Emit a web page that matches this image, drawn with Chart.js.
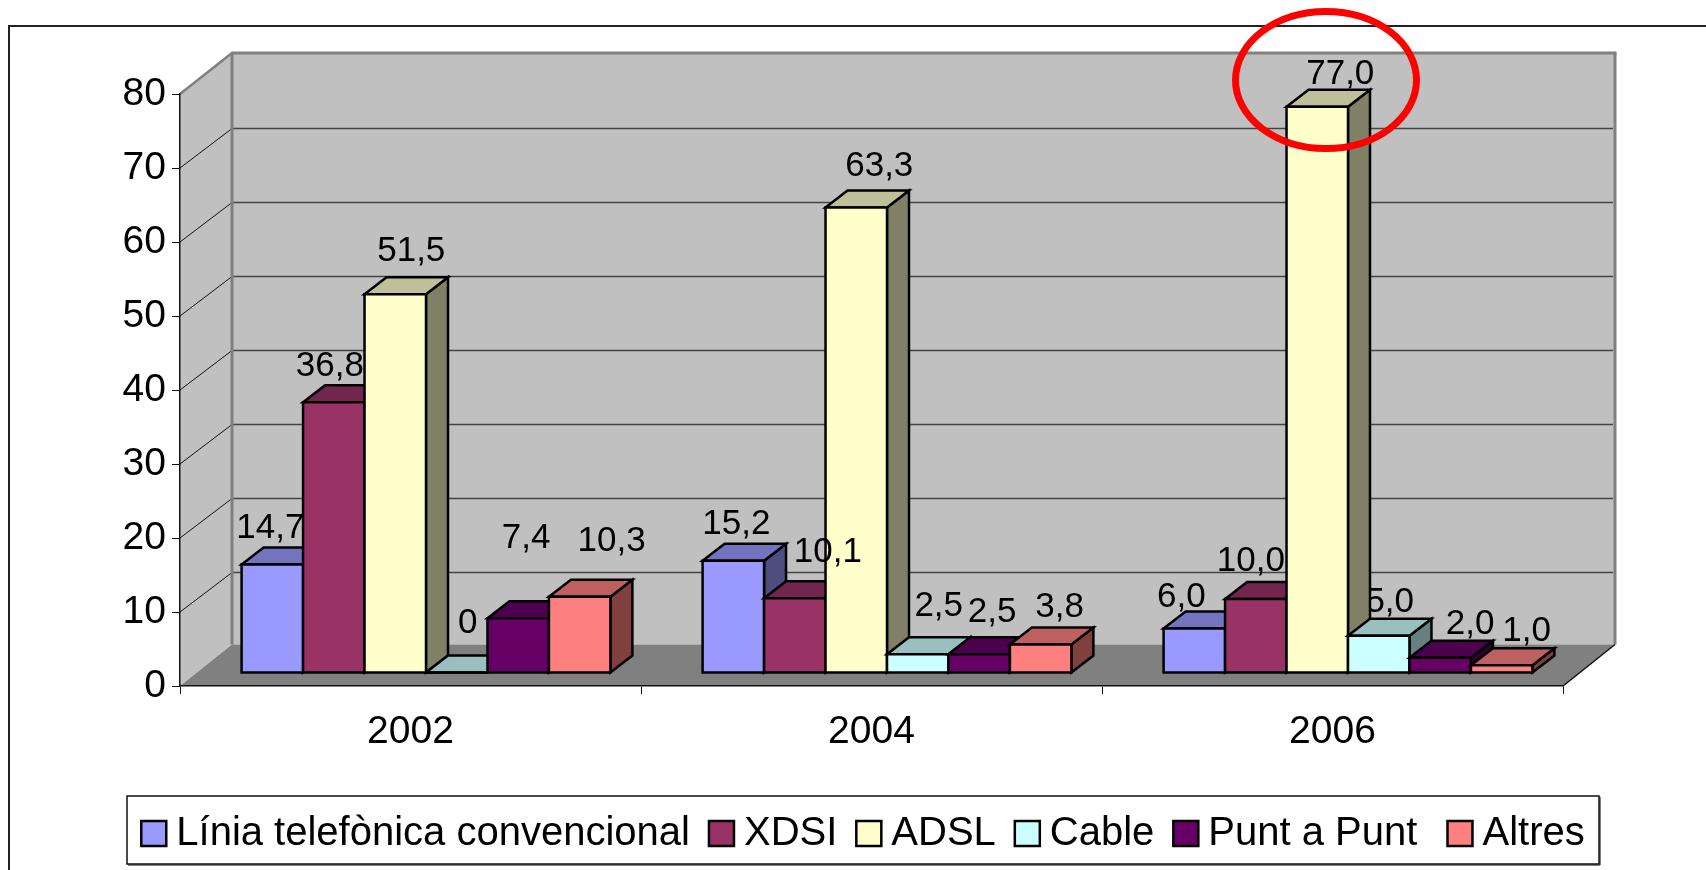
<!DOCTYPE html>
<html lang="ca">
<head>
<meta charset="utf-8">
<title>Accés a Internet</title>
<script src="https://cdn.jsdelivr.net/npm/chart.js@4/dist/chart.umd.min.js"></script>
<style>
    html, body { margin: 0; padding: 0; background: #fff; overflow: hidden; }
    canvas { display: block; }
</style>
</head>
<body>
<canvas id="chart" width="1706" height="870"></canvas>
<script>
// === Data ===
const categories = ['2002', '2004', '2006'];
const yTicks = [0, 10, 20, 30, 40, 50, 60, 70, 80];

const liniaValues = [14.7, 15.2, 6.0];
const xdsiValues = [36.8, 10.1, 10.0];
const adslValues = [51.5, 63.3, 77.0];
const cableValues = [0, 2.5, 5.0];
const puntValues = [7.4, 2.5, 2.0];
const altresValues = [10.3, 3.8, 1.0];

// === Look ===
const FONT = '"Liberation Sans", Arial, sans-serif';
const seriesStyle = [
    { label: 'Línia telefònica convencional', data: liniaValues, front: '#9999FF', top: '#7373BF', side: '#4D4D80' },
    { label: 'XDSI', data: xdsiValues, front: '#993366', top: '#73264D', side: '#4D1A33' },
    { label: 'ADSL', data: adslValues, front: '#FFFFCC', top: '#BFBF99', side: '#808066' },
    { label: 'Cable', data: cableValues, front: '#CCFFFF', top: '#99BFBF', side: '#668080' },
    { label: 'Punt a Punt', data: puntValues, front: '#660066', top: '#4D004D', side: '#330033' },
    { label: 'Altres', data: altresValues, front: '#FF8080', top: '#BF6060', side: '#804040' }
];

// 3D box sizes: wall depth and bar depth, in pixels
const WALL = { dx: 52, top: -41, grid: -39.5, floor: -41.5 };
const BAR = { dx: 22, dy: -17, shiftX: 15.5 };

// hand placed data labels in the original: offset from the top centre of each bar
const labelOffsets = [
    [[-2, -37], [3, -37], [-13, -31]],
    [[-4, -36], [33, -46], [-5, -38]],
    [[16, -43], [23, -41], [23, -33]],
    [[11, -50], [21, -48], [11, -34]],
    [[8, -80], [13, -42], [30, -34]],
    [[32, -56], [19, -38], [25, -34]]
];
// the only label that ends up behind a bar: the 5,0 of Cable in 2006
const isBehindBars = (i, j) => i === 3 && j === 2;

const formatLabel = (v) => v === 0 ? '0' : v.toFixed(1).replace('.', ',');

function poly(ctx, pts, fill, stroke, width) {
    ctx.beginPath();
    pts.forEach((p, i) => i ? ctx.lineTo(p[0], p[1]) : ctx.moveTo(p[0], p[1]));
    ctx.closePath();
    if (fill) { ctx.fillStyle = fill; ctx.fill(); }
    if (stroke) { ctx.strokeStyle = stroke; ctx.lineWidth = width; ctx.stroke(); }
}

function line(ctx, x1, y1, x2, y2, color, width) {
    ctx.beginPath();
    ctx.moveTo(x1, y1);
    ctx.lineTo(x2, y2);
    ctx.strokeStyle = color;
    ctx.lineWidth = width;
    ctx.stroke();
}

// Frame, walls, floor, grid and legend box of the fake 3D chart
const wallsPlugin = {
    id: 'walls',
    beforeDraw(chart) {
        const ctx = chart.ctx;
        const { left, right, top, bottom } = chart.chartArea;
        const backL = left + WALL.dx, backR = right + WALL.dx;
        const backT = top + WALL.top, backB = bottom + WALL.floor;

        ctx.save();
        ctx.fillStyle = '#fff';
        ctx.fillRect(0, 0, chart.width, chart.height);

        // outer frame runs off the page on the right and bottom
        line(ctx, 9, chart.height, 9, 26, '#222', 2);
        line(ctx, 8, 26, chart.width, 26, '#222', 2);

        poly(ctx, [[backL, backT], [backR, backT], [backR, backB], [backL, backB]], '#C0C0C0');
        poly(ctx, [[left, top], [backL, backT], [backL, backB], [left, bottom]], '#C0C0C0');
        poly(ctx, [[left, bottom], [backL, backB], [backR, backB], [right, bottom]], '#808080');

        yTicks.forEach((v) => {
            const y = chart.scales.y.getPixelForValue(v);
            if (v === 0 || v === 80) return;
            line(ctx, left, y, backL, y + WALL.grid, '#111', 1);
            line(ctx, backL, y + WALL.grid, backR - 2, y + WALL.grid, '#444', 1.5);
        });

        line(ctx, left, top, backL, backT, '#808080', 2.5);
        line(ctx, backL - 1, backT, backR + 1.5, backT, '#808080', 3);
        line(ctx, backL, backT, backL, backB, '#808080', 3);
        line(ctx, backR, backT, backR, backB, '#808080', 3);
        line(ctx, right, bottom, backR, backB, '#111', 1.5);

        // legend box with its little shadow
        line(ctx, 128, 865, 1600, 865, '#808080', 2);
        line(ctx, 1600, 797, 1600, 865, '#808080', 2);
        ctx.strokeStyle = '#111';
        ctx.lineWidth = 1.5;
        ctx.fillStyle = '#fff';
        ctx.fillRect(127, 796, 1472, 68);
        ctx.strokeRect(127, 796, 1472, 68);
        ctx.restore();
    }
};

function drawLabel(ctx, bar, i, value, j) {
    const off = labelOffsets[i][j];
    ctx.fillStyle = '#000';
    ctx.font = '35px ' + FONT;
    ctx.textAlign = 'center';
    ctx.textBaseline = 'alphabetic';
    ctx.fillText(formatLabel(value), bar.x + off[0], bar.y + off[1] + 10);
}

// Bars go left to right so each one covers the side of the previous one.
// The library's own bar fills the front face, the rest of the box goes around it.
const bars3dPlugin = {
    id: 'bars3d',
    beforeDatasetsDraw(chart) {
        const ctx = chart.ctx;
        const eachBar = (fn) => chart.data.datasets.forEach((ds, i) => {
            chart.getDatasetMeta(i).data.forEach((bar, j) => fn(bar, i, ds.data[j], j));
        });

        ctx.save();
        ctx.translate(BAR.shiftX, 0);
        eachBar((bar, i, v, j) => { if (isBehindBars(i, j)) drawLabel(ctx, bar, i, v, j); });

        eachBar((bar, i) => {
            const style = seriesStyle[i];
            const { x, y, base, width } = bar.getProps(['x', 'y', 'base', 'width'], true);
            const l = x - width / 2, r = x + width / 2;
            ctx.lineJoin = 'miter';
            poly(ctx, [[r, y], [r + BAR.dx, y + BAR.dy], [r + BAR.dx, base + BAR.dy], [r, base]], style.side, '#000', 2.5);
            poly(ctx, [[l, y], [l + BAR.dx, y + BAR.dy], [r + BAR.dx, y + BAR.dy], [r, y]], style.top, '#000', 2.5);
            bar.draw(ctx);
            poly(ctx, [[l, y], [r, y], [r, base], [l, base]], null, '#000', 2.5);
        });

        eachBar((bar, i, v, j) => { if (!isBehindBars(i, j)) drawLabel(ctx, bar, i, v, j); });
        ctx.restore();
        return false;
    }
};

// Legend swatches sit tighter to their text than the library allows, and
// the red hand drawn ellipse goes on top of everything
const overlayPlugin = {
    id: 'overlay',
    afterDraw(chart) {
        const ctx = chart.ctx;
        ctx.save();
        chart.legend.legendHitBoxes.forEach((box, i) => {
            const y = box.top + box.height / 2 - 12.5;
            poly(ctx, [[box.left, y], [box.left + 25, y], [box.left + 25, y + 25], [box.left, y + 25]], seriesStyle[i].front, '#000', 2.5);
        });
        ctx.beginPath();
        ctx.ellipse(1326, 80, 90.5, 68.5, 0, 0, Math.PI * 2);
        ctx.strokeStyle = '#FF0000';
        ctx.lineWidth = 7;
        ctx.stroke();
        ctx.restore();
    }
};

new Chart(document.getElementById('chart'), {
    type: 'bar',
    data: {
        labels: categories,
        datasets: seriesStyle.map((s) => ({
            label: s.label,
            data: s.data,
            backgroundColor: s.front,
            borderWidth: 0,
            yAxisID: 'yBars',
            categoryPercentage: 0.8,
            barPercentage: 1
        }))
    },
    options: {
        responsive: false,
        animation: false,
        events: [],
        layout: { autoPadding: false, padding: { left: 20, right: 0, top: 94, bottom: 6.5 } },
        scales: {
            x: {
                position: 'bottom',
                afterFit: (s) => { s.height = 108.5; },
                border: { display: true, color: '#111', width: 1.5 },
                grid: { offset: true, drawOnChartArea: false, drawTicks: true, tickLength: 8, tickColor: '#111', lineWidth: 1 },
                ticks: { color: '#000', font: { family: FONT, size: 39 }, padding: 15, maxRotation: 0 }
            },
            y: {
                position: 'left',
                min: 0,
                max: 80,
                afterFit: (s) => { s.width = 160; },
                afterBuildTicks: (s) => { s.ticks = yTicks.map((v) => ({ value: v })); },
                border: { display: true, color: '#111', width: 1.5 },
                grid: { drawOnChartArea: false, drawTicks: true, tickLength: 8, tickColor: '#111', lineWidth: 1 },
                ticks: { color: '#000', font: { family: FONT, size: 39 }, padding: 6 }
            },
            // bars stand a bit forward of the axis plane, so they get their own value scale
            yBars: {
                position: 'right',
                min: -1.834,
                max: 78.74,
                afterFit: (s) => { s.width = 143; },
                border: { display: false },
                grid: { display: false },
                ticks: { display: false }
            }
        },
        plugins: {
            tooltip: { enabled: false },
            legend: {
                position: 'bottom',
                labels: {
                    color: '#000',
                    font: { family: FONT, size: 40 },
                    boxWidth: 15,
                    boxHeight: 25,
                    padding: 19,
                    // empty box: swatch is drawn in overlayPlugin. Punt a Punt had a trailing space in the original
                    generateLabels: (chart) => chart.data.datasets.map((ds, i) => ({
                        text: i === 4 ? ds.label + ' ' : ds.label,
                        fillStyle: 'rgba(0,0,0,0)',
                        strokeStyle: 'rgba(0,0,0,0)',
                        lineWidth: 0,
                        fontColor: '#000',
                        datasetIndex: i
                    }))
                }
            }
        }
    },
    plugins: [wallsPlugin, overlayPlugin, bars3dPlugin]
});
</script>
</body>
</html>
